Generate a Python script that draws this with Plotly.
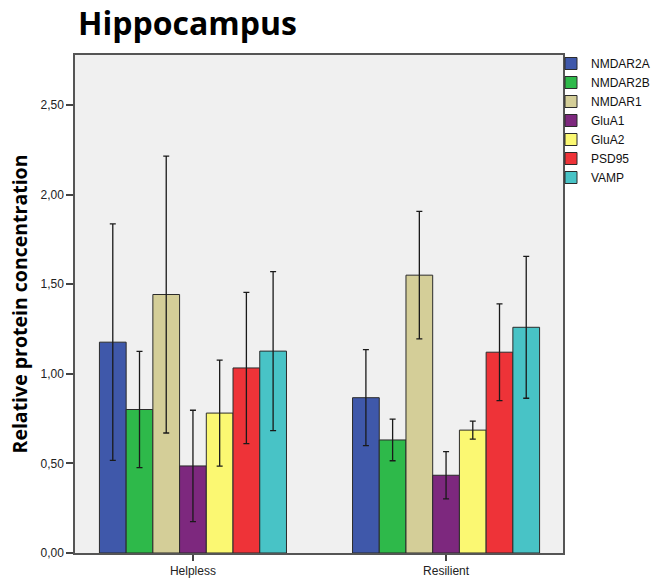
import plotly.graph_objects as go

groups = ["Helpless", "Resilient"]
proteins = ["NMDAR2A", "NMDAR2B", "NMDAR1", "GluA1", "GluA2", "PSD95", "VAMP"]
colors = ["#3F58AA", "#2EB94A", "#D4CE98", "#7D287E", "#FBF872", "#EE3338", "#48C3C6"]

# mean per group (Helpless, Resilient)
means = {
    "NMDAR2A": [1.177, 0.867],
    "NMDAR2B": [0.801, 0.631],
    "NMDAR1":  [1.443, 1.551],
    "GluA1":   [0.486, 0.434],
    "GluA2":   [0.781, 0.686],
    "PSD95":   [1.033, 1.121],
    "VAMP":    [1.127, 1.260],
}
# error bar half-lengths
errors = {
    "NMDAR2A": [0.660, 0.268],
    "NMDAR2B": [0.324, 0.116],
    "NMDAR1":  [0.773, 0.356],
    "GluA1":   [0.311, 0.132],
    "GluA2":   [0.296, 0.050],
    "PSD95":   [0.422, 0.270],
    "VAMP":    [0.444, 0.396],
}

y_ticks = [0, 0.5, 1.0, 1.5, 2.0, 2.5]
y_tick_text = ["0,00", "0,50", "1,00", "1,50", "2,00", "2,50"]

W, H = 651, 584
ML, MR, MT, MB = 75, 88, 55, 31
PW, PH = W - ML - MR, H - MT - MB

fig = go.Figure()
for name, col in zip(proteins, colors):
    fig.add_trace(go.Bar(
        name=name,
        x=groups,
        y=means[name],
        marker=dict(color=col, line=dict(color="#2b2b2b", width=1)),
        error_y=dict(type="data", array=errors[name], visible=True,
                     color="#1a1a1a", thickness=1.3, width=3),
    ))

fig.update_layout(
    width=W,
    height=H,
    margin=dict(l=ML, r=MR, t=MT, b=MB, autoexpand=False),
    paper_bgcolor="white",
    plot_bgcolor="#F0F0F0",
    barmode="group",
    bargap=0.261,
    bargroupgap=0,
    font=dict(family="Liberation Sans, Arial, sans-serif", color="#222"),
    title=dict(
        text="<b>Hippocampus</b>",
        font=dict(family="Open Sans, sans-serif", size=32, color="black"),
        x=78 / W, xanchor="left", y=1 - 24 / H, yanchor="middle",
    ),
    showlegend=True,
    legend=dict(
        x=(551 - ML) / PW, xanchor="left",
        y=(H - MB - 49) / PH, yanchor="top",
        font=dict(family="Liberation Sans, Arial, sans-serif", size=12, color="#111"),
        bgcolor="rgba(0,0,0,0)",
        tracegroupgap=0,
        itemwidth=30,
    ),
    xaxis=dict(
        range=[-0.466, 1.462],
        showline=True, linecolor="#555", linewidth=1.5, mirror=True,
        ticks="outside", ticklen=6, tickcolor="#444", tickwidth=1.5,
        tickfont=dict(size=12, color="#222"),
        showgrid=False, zeroline=False,
    ),
    yaxis=dict(
        range=[0, 2.78],
        tickvals=y_ticks, ticktext=y_tick_text,
        showline=True, linecolor="#555", linewidth=1.5, mirror=True,
        ticks="outside", ticklen=7, tickcolor="#444", tickwidth=1.5,
        tickfont=dict(size=12, color="#222"),
        showgrid=False, zeroline=False,
        title=dict(text="<b>Relative protein concentration</b>",
                   font=dict(family="Open Sans, sans-serif", size=19.5, color="black"),
                   standoff=8),
    ),
)

fig.write_html("out.html")
